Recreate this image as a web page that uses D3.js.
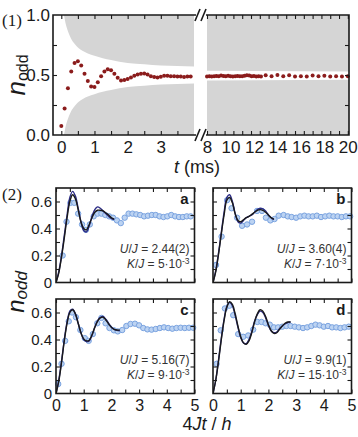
<!DOCTYPE html>
<html>
<head>
<meta charset="utf-8">
<script src="https://cdn.jsdelivr.net/npm/d3@7"></script>
<style>
  body { margin: 0; background: #fff; }
  svg { display: block; }
</style>
</head>
<body>
<div id="chart"></div>
<script>
/* =====================================================
   DATA
===================================================== */

// (1) measured n_odd vs t, early part (ms)
const earlyT = [0, 0.1, 0.2, 0.3, 0.4, 0.5, 0.6, 0.7, 0.8, 0.9, 1.0, 1.1, 1.2, 1.3, 1.4, 1.5, 1.6, 1.7, 1.8, 1.9,
  2.0, 2.1, 2.2, 2.3, 2.4, 2.5, 2.6, 2.7, 2.8, 2.9, 3.0, 3.1, 3.2, 3.3, 3.4, 3.5, 3.6, 3.7, 3.8, 3.9];
const earlyN = [0.075, 0.22, 0.39, 0.53, 0.60, 0.615, 0.58, 0.51, 0.45, 0.405, 0.40, 0.44, 0.49, 0.53, 0.547, 0.54, 0.51, 0.478, 0.455, 0.458,
  0.467, 0.48, 0.494, 0.505, 0.51, 0.512, 0.505, 0.49, 0.483, 0.48, 0.485, 0.494, 0.494, 0.49, 0.49, 0.488, 0.488, 0.483, 0.488, 0.488];

// (1) late part, after the axis break
const lateT = [8.0, 8.2, 8.4, 8.6, 8.8, 9.0, 9.2, 9.4, 9.6, 9.8, 10.0, 10.2, 10.4, 10.6, 10.8, 11.0, 11.2, 11.4, 11.6, 11.8,
  12.0, 12.2, 12.4, 12.6, 13.0, 13.5, 14.0, 14.5, 15.0, 15.5, 16.0, 16.5, 17.0, 17.5, 18.0, 18.5, 19.0, 19.5, 20.0];
const lateN = [0.488, 0.49, 0.487, 0.49, 0.492, 0.49, 0.495, 0.492, 0.49, 0.493, 0.49, 0.488, 0.49, 0.492, 0.49, 0.49, 0.493, 0.497, 0.495, 0.49,
  0.492, 0.487, 0.49, 0.488, 0.497, 0.49, 0.5, 0.49, 0.497, 0.488, 0.49, 0.488, 0.495, 0.49, 0.493, 0.488, 0.49, 0.487, 0.49];

// (1) grey excluded region: envelope bounds
const envT  = [0.08, 0.1, 0.13, 0.17, 0.22, 0.3, 0.4, 0.5, 0.65, 0.8, 1.0, 1.25, 1.5, 2.0, 2.5, 3.0, 3.5, 4.0];
const envHi = [1.0, 0.97, 0.93, 0.89, 0.85, 0.80, 0.76, 0.73, 0.70, 0.68, 0.66, 0.64, 0.625, 0.60, 0.59, 0.58, 0.575, 0.57];
const envLo = [0.0, 0.03, 0.07, 0.11, 0.15, 0.20, 0.24, 0.27, 0.30, 0.32, 0.34, 0.36, 0.375, 0.40, 0.41, 0.42, 0.425, 0.43];
const bandT  = [8, 20.1];
const bandHi = [0.535, 0.53];
const bandLo = [0.455, 0.46];

// (2) four panels, x = 4Jt/h
const panelLetters = ['a', 'b', 'c', 'd'];
const panelU = ['2.44(2)', '3.60(4)', '5.16(7)', '9.9(1)'];
const panelK = ['5', '7', '9', '15'];

const aT = [0.24, 0.38, 0.52, 0.66, 0.80, 0.94, 1.08, 1.22, 1.36, 1.50, 1.64, 1.78, 1.92, 2.06, 2.20, 2.34, 2.48, 2.62, 2.76, 2.90,
  3.04, 3.18, 3.32, 3.46, 3.60, 3.74, 3.88, 4.02, 4.16, 4.30, 4.44, 4.58, 4.72, 4.86];
const aN = [0.20, 0.45, 0.59, 0.59, 0.51, 0.43, 0.39, 0.43, 0.49, 0.51, 0.51, 0.50, 0.49, 0.48, 0.46, 0.44, 0.48, 0.51, 0.51, 0.505,
  0.50, 0.49, 0.495, 0.50, 0.50, 0.49, 0.485, 0.49, 0.50, 0.49, 0.485, 0.485, 0.49, 0.49];

const bT = [0.11, 0.31, 0.51, 0.67, 0.87, 1.05, 1.23, 1.41, 1.59, 1.77, 1.91, 2.07, 2.22, 2.37, 2.55, 2.70, 2.84, 3.0, 3.15, 3.3,
  3.45, 3.6, 3.75, 3.9, 4.05, 4.2, 4.35, 4.5, 4.65, 4.8, 4.95];
const bN = [0.13, 0.34, 0.61, 0.55, 0.48, 0.42, 0.43, 0.45, 0.53, 0.53, 0.48, 0.46, 0.47, 0.495, 0.50, 0.49, 0.485, 0.48, 0.49, 0.495,
  0.49, 0.49, 0.495, 0.485, 0.49, 0.495, 0.49, 0.49, 0.485, 0.49, 0.49];

const cT = [0.08, 0.2, 0.33, 0.46, 0.58, 0.72, 0.88, 1.04, 1.18, 1.33, 1.49, 1.64, 1.79, 1.93, 2.09, 2.23, 2.39, 2.54, 2.69, 2.85,
  3.0, 3.15, 3.3, 3.45, 3.6, 3.75, 3.9, 4.05, 4.2, 4.35, 4.5, 4.65, 4.8, 4.95];
const cN = [0.07, 0.22, 0.39, 0.535, 0.60, 0.565, 0.47, 0.41, 0.39, 0.44, 0.52, 0.56, 0.52, 0.485, 0.468, 0.46, 0.47, 0.50, 0.515, 0.517,
  0.505, 0.485, 0.475, 0.473, 0.478, 0.485, 0.49, 0.485, 0.48, 0.485, 0.487, 0.485, 0.487, 0.487];

const dT = [0.13, 0.28, 0.43, 0.59, 0.73, 0.91, 1.09, 1.27, 1.45, 1.6, 1.75, 1.9, 2.05, 2.2, 2.35, 2.5, 2.65, 2.8, 2.95, 3.1,
  3.25, 3.4, 3.55, 3.7, 3.85, 4.0, 4.15, 4.3, 4.45, 4.6, 4.75, 4.9];
const dN = [0.22, 0.468, 0.63, 0.65, 0.58, 0.44, 0.42, 0.43, 0.473, 0.53, 0.53, 0.52, 0.51, 0.49, 0.49, 0.495, 0.5, 0.5, 0.495, 0.49,
  0.485, 0.49, 0.5, 0.51, 0.505, 0.495, 0.5, 0.49, 0.49, 0.485, 0.49, 0.495];

// theory curves, sampled on fitT
const fitT = [0, 0.1, 0.2, 0.3, 0.4, 0.5, 0.6, 0.7, 0.8, 0.9, 1.0, 1.1, 1.2, 1.3, 1.4, 1.5, 1.6, 1.7, 1.8, 1.9,
  2.0, 2.1, 2.2, 2.3, 2.4, 2.5, 2.6, 2.7, 2.8];
const aNavy  = [0, 0.08, 0.2, 0.35, 0.50, 0.63, 0.675, 0.64, 0.55, 0.45, 0.385, 0.375, 0.42, 0.49, 0.54, 0.56, 0.55, 0.53, 0.51, 0.49, 0.475, 0.465];
const aBlack = [0, 0.07, 0.19, 0.33, 0.48, 0.60, 0.65, 0.62, 0.54, 0.45, 0.40, 0.39, 0.43, 0.48, 0.52, 0.535, 0.535, 0.53, 0.515, 0.50, 0.48, 0.47];
const bNavy  = [0, 0.09, 0.22, 0.37, 0.52, 0.63, 0.65, 0.60, 0.51, 0.45, 0.44, 0.46, 0.48, 0.49, 0.50, 0.52, 0.54, 0.55, 0.545, 0.53, 0.50, 0.48, 0.465];
const bBlack = [0, 0.08, 0.21, 0.36, 0.50, 0.61, 0.63, 0.59, 0.51, 0.46, 0.45, 0.465, 0.48, 0.49, 0.505, 0.52, 0.535, 0.54, 0.535, 0.52, 0.50, 0.48, 0.47];
const cNavy  = [0, 0.1, 0.24, 0.40, 0.53, 0.61, 0.625, 0.59, 0.52, 0.45, 0.40, 0.385, 0.39, 0.43, 0.49, 0.54, 0.565, 0.57, 0.55, 0.52, 0.49, 0.475, 0.468, 0.465];
const cBlack = [0, 0.09, 0.23, 0.39, 0.52, 0.60, 0.62, 0.59, 0.52, 0.45, 0.405, 0.39, 0.395, 0.435, 0.49, 0.535, 0.56, 0.565, 0.545, 0.515, 0.49, 0.475, 0.47, 0.47];
const dNavy  = [0, 0.1, 0.25, 0.41, 0.55, 0.645, 0.675, 0.65, 0.58, 0.49, 0.415, 0.375, 0.37, 0.40, 0.46, 0.535, 0.585, 0.61, 0.60, 0.56, 0.505, 0.465, 0.45, 0.455, 0.48, 0.50, 0.515, 0.525, 0.53];
const dBlack = [0, 0.1, 0.24, 0.40, 0.54, 0.64, 0.68, 0.66, 0.59, 0.50, 0.42, 0.375, 0.365, 0.39, 0.45, 0.53, 0.59, 0.62, 0.61, 0.57, 0.51, 0.465, 0.445, 0.45, 0.475, 0.50, 0.52, 0.53, 0.53];

const panelPts   = [[aT, aN], [bT, bN], [cT, cN], [dT, dN]];
const panelNavy  = [aNavy, bNavy, cNavy, dNavy];
const panelBlack = [aBlack, bBlack, cBlack, dBlack];

/* =====================================================
   LAYOUT / STYLE
===================================================== */
const FONT = '"Liberation Sans", Arial, Helvetica, sans-serif';
const SERIF = '"Liberation Serif", "DejaVu Serif", serif';
const INK = '#1a1a1a';
const GREY = '#d5d5d5';
const RED = '#8b1c1c';
const NAVY = '#2c2c86';

const TOP = { left: 53, right: 349, top: 15, bottom: 135, breakL: 194, breakR: 207 };
const PW = 138.5, PH = 94.5;
const panelPos = [
  { x0: 56, y0: 188, yLab: true, xLab: false },
  { x0: 213, y0: 188, yLab: false, xLab: false },
  { x0: 56, y0: 299, yLab: true, xLab: true },
  { x0: 213, y0: 299, yLab: false, xLab: true },
];

const svg = d3.select('#chart').append('svg')
  .attr('width', 358).attr('height', 437)
  .style('font-family', FONT);

function styleAxis(g, size) {
  g.select('.domain').remove();
  g.attr('font-family', FONT).attr('font-size', size).attr('color', INK);
  g.selectAll('line').attr('stroke-width', 1.1);
}

/* =====================================================
   (1) TOP CHART
===================================================== */
const xL = d3.scaleLinear().domain([-0.25, 4]).range([TOP.left, TOP.breakL]);
const xR = d3.scaleLinear().domain([8, 20.1]).range([TOP.breakR, TOP.right]);
const yT = d3.scaleLinear().domain([0, 1]).range([TOP.bottom, TOP.top]);

const gTop = svg.append('g');
const env = envT.map((t, i) => ({ t, hi: envHi[i], lo: envLo[i] }));
const band = bandT.map((t, i) => ({ t, hi: bandHi[i], lo: bandLo[i] }));

gTop.append('path').datum(env).attr('fill', GREY)
  .attr('d', d3.area().curve(d3.curveMonotoneX).x(d => xL(d.t)).y0(yT(1)).y1(d => yT(d.hi)));
gTop.append('path').datum(env).attr('fill', GREY)
  .attr('d', d3.area().curve(d3.curveMonotoneX).x(d => xL(d.t)).y0(yT(0)).y1(d => yT(d.lo)));
gTop.append('path').datum(band).attr('fill', GREY)
  .attr('d', d3.area().x(d => xR(d.t)).y0(yT(1)).y1(d => yT(d.hi)));
gTop.append('path').datum(band).attr('fill', GREY)
  .attr('d', d3.area().x(d => xR(d.t)).y0(yT(0)).y1(d => yT(d.lo)));

gTop.selectAll('.early').data(earlyT.map((t, i) => ({ t, n: earlyN[i] }))).join('circle')
  .attr('class', 'early').attr('cx', d => xL(d.t)).attr('cy', d => yT(d.n)).attr('r', 2).attr('fill', RED);
gTop.selectAll('.late').data(lateT.map((t, i) => ({ t, n: lateN[i] }))).join('circle')
  .attr('class', 'late').attr('cx', d => xR(d.t)).attr('cy', d => yT(d.n)).attr('r', 2).attr('fill', RED);

// axes
const tickL = [0, 0.5, 1, 1.5, 2, 2.5, 3, 3.5];
const tickR = [8, 8.75, 9.5, 10.25, 11, 11.75, 12.5, 13.25, 14, 14.75, 15.5, 16.25, 17, 17.75, 18.5, 19.25, 20];
const labR = [8, 10, 12, 14, 16, 18, 20];
const tickY = [0.25, 0.5, 0.75];

gTop.append('g').attr('transform', `translate(0,${TOP.bottom})`)
  .call(d3.axisBottom(xL).tickValues(tickL).tickSizeInner(-4).tickSizeOuter(0).tickPadding(6)
    .tickFormat(d => Number.isInteger(d) ? d : ''))
  .call(g => styleAxis(g, 17));
gTop.append('g').attr('transform', `translate(0,${TOP.top})`)
  .call(d3.axisTop(xL).tickValues(tickL).tickSizeInner(-4).tickSizeOuter(0).tickFormat(''))
  .call(g => styleAxis(g, 17));
gTop.append('g').attr('transform', `translate(0,${TOP.bottom})`)
  .call(d3.axisBottom(xR).tickValues(tickR).tickSizeInner(-4).tickSizeOuter(0).tickFormat(''))
  .call(g => styleAxis(g, 17));
gTop.append('g').attr('transform', `translate(0,${TOP.bottom})`)
  .call(d3.axisBottom(xR).tickValues(labR).tickSize(0).tickPadding(6))
  .call(g => styleAxis(g, 17));
gTop.append('g').attr('transform', `translate(0,${TOP.top})`)
  .call(d3.axisTop(xR).tickValues(tickR).tickSizeInner(-4).tickSizeOuter(0).tickFormat(''))
  .call(g => styleAxis(g, 17));
gTop.append('g').attr('transform', `translate(${TOP.left},0)`)
  .call(d3.axisLeft(yT).tickValues(tickY).tickSizeInner(-4).tickSizeOuter(0).tickFormat(''))
  .call(g => styleAxis(g, 17));
gTop.append('g').attr('transform', `translate(${TOP.left},0)`)
  .call(d3.axisLeft(yT).tickValues([0, 0.5, 1]).tickSize(0).tickPadding(3).tickFormat(d3.format('.1f')))
  .call(g => styleAxis(g, 17));
gTop.append('g').attr('transform', `translate(${TOP.right},0)`)
  .call(d3.axisRight(yT).tickValues(tickY).tickSizeInner(-4).tickSizeOuter(0).tickFormat(''))
  .call(g => styleAxis(g, 17));

// frame, open at the break
const fr = d3.path();
fr.moveTo(TOP.breakL + 2, yT(1)); fr.lineTo(TOP.left, yT(1)); fr.lineTo(TOP.left, yT(0)); fr.lineTo(TOP.breakL + 2, yT(0));
fr.moveTo(TOP.breakR - 1, yT(1)); fr.lineTo(TOP.right, yT(1)); fr.lineTo(TOP.right, yT(0)); fr.lineTo(TOP.breakR - 1, yT(0));
gTop.append('path').attr('d', fr.toString()).attr('fill', 'none').attr('stroke', INK).attr('stroke-width', 1.6);

// break marks //
[yT(1), yT(0)].forEach(yy => {
  [TOP.breakL + 1, TOP.breakL + 7].forEach(xx => {
    gTop.append('line').attr('x1', xx).attr('y1', yy + 6).attr('x2', xx + 5).attr('y2', yy - 6)
      .attr('stroke', INK).attr('stroke-width', 1.6);
  });
});

// labels
svg.append('text').attr('x', 2).attr('y', 26).attr('font-family', SERIF).attr('font-size', 17).attr('fill', INK).text('(1)');
const ytl = svg.append('text').attr('transform', `translate(25,${(TOP.top + TOP.bottom) / 2}) rotate(-90)`)
  .attr('text-anchor', 'middle').attr('fill', INK);
ytl.append('tspan').attr('font-style', 'italic').attr('font-size', 26).text('n');
ytl.append('tspan').attr('font-size', 16).attr('dy', 3).text('odd');
const xtl = svg.append('text').attr('x', 197).attr('y', 173).attr('text-anchor', 'middle').attr('font-size', 18).attr('fill', INK);
xtl.append('tspan').attr('font-style', 'italic').text('t');
xtl.append('tspan').text(' (ms)');

/* =====================================================
   (2) FOUR PANELS
===================================================== */
const pxTicks = [0, 0.5, 1, 1.5, 2, 2.5, 3, 3.5, 4, 4.5, 5];
const pyTicks = [0.1, 0.2, 0.3, 0.4, 0.5, 0.6];
const pyLabels = [0, 0.2, 0.4, 0.6];

function drawPanel(i) {
  const p = panelPos[i];
  const g = svg.append('g');
  const x = d3.scaleLinear().domain([0, 5]).range([p.x0, p.x0 + PW]);
  const y = d3.scaleLinear().domain([0, 0.7]).range([p.y0 + PH, p.y0]);

  g.append('defs').append('clipPath').attr('id', 'clip' + i)
    .append('rect').attr('x', p.x0).attr('y', p.y0).attr('width', PW).attr('height', PH);

  const [ts, ns] = panelPts[i];
  g.selectAll('.pt').data(ts.map((t, j) => ({ t, n: ns[j] }))).join('circle')
    .attr('class', 'pt').attr('cx', d => x(d.t)).attr('cy', d => y(d.n)).attr('r', 2.7)
    .attr('fill', '#bcd3f2').attr('stroke', '#7aa3e0').attr('stroke-width', 1);

  const line = d3.line().curve(d3.curveCatmullRom.alpha(0.5)).x(d => x(d.t)).y(d => y(d.n));
  const curves = [[panelNavy[i], NAVY], [panelBlack[i], INK]];
  curves.forEach(([vals, col]) => {
    g.append('path').datum(vals.map((n, j) => ({ t: fitT[j], n })))
      .attr('clip-path', `url(#clip${i})`)
      .attr('d', line).attr('fill', 'none').attr('stroke', col).attr('stroke-width', 1.4);
  });

  // ticks (inward on all sides)
  g.append('g').attr('transform', `translate(0,${p.y0 + PH})`)
    .call(d3.axisBottom(x).tickValues(pxTicks).tickSizeInner(-4).tickSizeOuter(0).tickPadding(6)
      .tickFormat(d => p.xLab && Number.isInteger(d) ? d : ''))
    .call(a => styleAxis(a, 16));
  g.append('g').attr('transform', `translate(0,${p.y0})`)
    .call(d3.axisTop(x).tickValues(pxTicks).tickSizeInner(-4).tickSizeOuter(0).tickFormat(''))
    .call(a => styleAxis(a, 16));
  g.append('g').attr('transform', `translate(${p.x0},0)`)
    .call(d3.axisLeft(y).tickValues(pyTicks).tickSizeInner(-4).tickSizeOuter(0).tickFormat(''))
    .call(a => styleAxis(a, 15));
  if (p.yLab) {
    g.append('g').attr('transform', `translate(${p.x0},0)`)
      .call(d3.axisLeft(y).tickValues(pyLabels).tickSize(0).tickPadding(4)
        .tickFormat(d => d === 0 ? '0' : d.toFixed(1)))
      .call(a => styleAxis(a, 15));
  }
  g.append('g').attr('transform', `translate(${p.x0 + PW},0)`)
    .call(d3.axisRight(y).tickValues(pyTicks).tickSizeInner(-4).tickSizeOuter(0).tickFormat(''))
    .call(a => styleAxis(a, 15));

  g.append('rect').attr('x', p.x0).attr('y', p.y0).attr('width', PW).attr('height', PH)
    .attr('fill', 'none').attr('stroke', INK).attr('stroke-width', 1.6);

  // letter
  g.append('text').attr('x', p.x0 + PW - 6).attr('y', p.y0 + 16).attr('text-anchor', 'end')
    .attr('font-size', 15).attr('font-weight', 'bold').attr('fill', INK).text(panelLetters[i]);

  // parameters
  const t1 = g.append('text').attr('x', p.x0 + PW - 5).attr('y', p.y0 + 65)
    .attr('text-anchor', 'end').attr('font-size', 12).attr('fill', '#333');
  t1.append('tspan').attr('font-style', 'italic').text('U');
  t1.append('tspan').text('/');
  t1.append('tspan').attr('font-style', 'italic').text('J');
  t1.append('tspan').text(' = ' + panelU[i]);

  const t2 = g.append('text').attr('x', p.x0 + PW - 5).attr('y', p.y0 + 80)
    .attr('text-anchor', 'end').attr('font-size', 12).attr('fill', '#333');
  t2.append('tspan').attr('font-style', 'italic').text('K');
  t2.append('tspan').text('/');
  t2.append('tspan').attr('font-style', 'italic').text('J');
  t2.append('tspan').text(' = ' + panelK[i] + '\u00B710');
  t2.append('tspan').attr('font-size', 8.5).attr('dy', -4.5).text('-3');
}

panelLetters.forEach((_, i) => drawPanel(i));

svg.append('text').attr('x', 2).attr('y', 200).attr('font-family', SERIF).attr('font-size', 17).attr('fill', INK).text('(2)');
const ybl = svg.append('text').attr('transform', 'translate(24,292) rotate(-90)')
  .attr('text-anchor', 'middle').attr('fill', INK).attr('font-style', 'italic');
ybl.append('tspan').attr('font-size', 24).text('n');
ybl.append('tspan').attr('font-size', 17).attr('dy', 3).text('odd');

const xbl = svg.append('text').attr('x', 207).attr('y', 430).attr('text-anchor', 'middle').attr('font-size', 18).attr('fill', INK);
xbl.append('tspan').text('4');
xbl.append('tspan').attr('font-style', 'italic').text('Jt');
xbl.append('tspan').text(' / ');
xbl.append('tspan').attr('font-style', 'italic').text('h');
</script>
</body>
</html>
